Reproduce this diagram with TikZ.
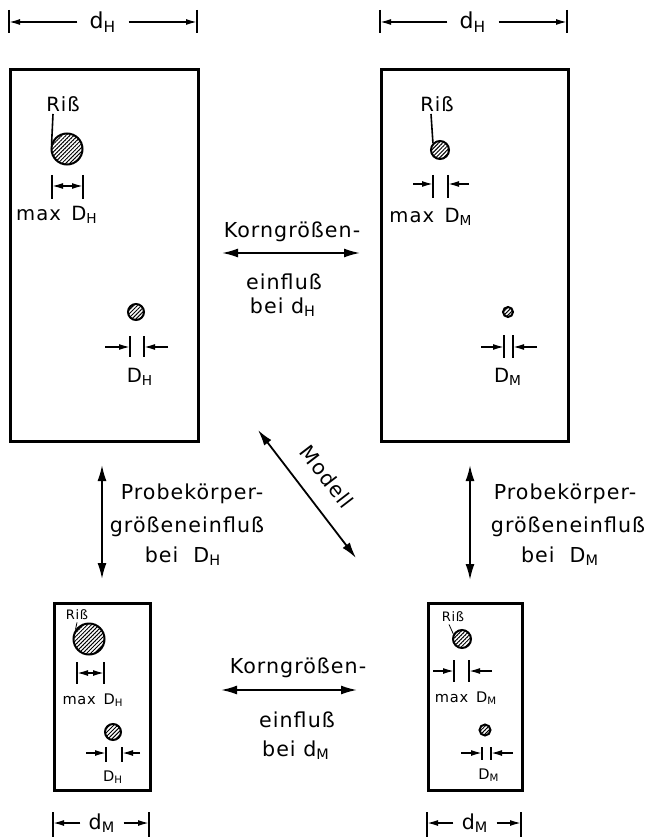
\documentclass[tikz,border=0pt]{standalone}
\usepackage{fontspec}
\setmainfont{DejaVu Sans}[LetterSpace=5]
\usetikzlibrary{arrows.meta,patterns.meta}

\begin{document}
\begin{tikzpicture}[
	x=0.5pt, y=-0.5pt,
  > = {Latex[length=5.5pt,width=3pt]},
  box/.style = {draw,line width=1.4pt,inner sep=0pt,anchor=north west},
  crack/.style = {draw,circle,line width=1pt,inner sep=0pt,pattern={Lines[angle=45,distance=1.4pt,line width=0.5pt]}},
  dim/.style = {line width=0.8pt},
  big/.style = {line width=0.9pt,{Latex[length=8pt,width=4.5pt]}-{Latex[length=8pt,width=4.5pt]}},
  lbl/.style = {inner sep=1pt,font=\fontsize{10.3}{12}\selectfont},
  in lbl/.style = {inner sep=1pt,font=\fontsize{9.8}{12}\selectfont},
  gap/.style = {lbl,inner sep=6pt,font=\fontsize{11}{13}\selectfont},
  small lbl/.style = {inner sep=1pt,font=\fontsize{7.3}{9}\selectfont},
  tiny lbl/.style = {inner sep=1pt,font=\fontsize{6.5}{8}\selectfont}
  ]
	\useasboundingbox (0,0) rectangle (645,839);

	\node[box,minimum width=94pt,minimum height=186pt] (boxA) at (9,68) {};
	\node[box,minimum width=93.5pt,minimum height=186pt] (boxB) at (380,68) {};
	\node[box,minimum width=48pt,minimum height=93.5pt] (boxC) at (53,602) {};
	\node[box,minimum width=47pt,minimum height=93.5pt] (boxD) at (427,602) {};

	% widths
	\draw[dim] (9,10) -- (9,33) (197,10) -- (197,33);
	\node[gap] (dA) at (103,22) {d\textsubscript{H}};
	\draw[dim,->] (dA) -- (9,22);
	\draw[dim,->] (dA) -- (197,22);

	\draw[dim] (380,10) -- (380,33) (567,10) -- (567,33);
	\node[gap] (dB) at (473,22) {d\textsubscript{H}};
	\draw[dim,->] (dB) -- (380,22);
	\draw[dim,->] (dB) -- (567,22);

	\draw[dim] (53,812) -- (53,837) (149,812) -- (149,837);
	\node[lbl,inner sep=4pt] (dC) at (102,823) {d\textsubscript{M}};
	\draw[dim,->] (dC) -- (53,823);
	\draw[dim,->] (dC) -- (149,823);

	\draw[dim] (427,812) -- (427,837) (521,812) -- (521,837);
	\node[lbl,inner sep=4pt] (dD) at (475,823) {d\textsubscript{M}};
	\draw[dim,->] (dD) -- (427,823);
	\draw[dim,->] (dD) -- (521,823);

	% top left
	\node[in lbl] (rissA) at (63,104) {Riß};
	\node[crack,minimum size=15.5pt] (crackA) at (67,149) {};
	\draw[dim] ([xshift=-5pt]rissA.south) -- (crackA.165);
	\draw[dim] (52,175) -- (52,199) (83,175) -- (83,199);
	\draw[dim,<->] (52,186) -- (83,186);
	\node[in lbl] (maxA) at (57,215) {max\, D\textsubscript{H}};
	\node[crack,minimum size=8pt] (grainA) at (136,312) {};
	\draw[dim] (130,336) -- (130,357) (144,336) -- (144,357);
	\draw[dim,->] (105,347) -- (130,347);
	\draw[dim,->] (168,347) -- (144,347);
	\node[in lbl] (sizeA) at (140,377) {D\textsubscript{H}};

	% top right
	\node[in lbl] (rissB) at (437,104) {Riß};
	\node[crack,minimum size=9pt] (crackB) at (440,150) {};
	\draw[dim] ([xshift=-3pt]rissB.south) -- (crackB.135);
	\draw[dim] (433,175) -- (433,198) (448,175) -- (448,198);
	\draw[dim,->] (413,184) -- (433,184);
	\draw[dim,->] (469,184) -- (448,184);
	\node[in lbl] (maxB) at (431,217) {max\, D\textsubscript{M}};
	\node[crack,minimum size=5pt] (grainB) at (508,312) {};
	\draw[dim] (504,335) -- (504,358) (513,335) -- (513,358);
	\draw[dim,->] (481,347) -- (504,347);
	\draw[dim,->] (537,347) -- (513,347);
	\node[in lbl] (sizeB) at (508,377) {D\textsubscript{M}};

	% bottom left
	\node[tiny lbl] (rissC) at (77,615) {Riß};
	\node[crack,minimum size=15.5pt] (crackC) at (89,639) {};
	\draw[thin] (rissC.south) -- (crackC.145);
	\draw[dim] (77,662) -- (77,684) (104,662) -- (104,684);
	\draw[dim,<->] (77,673) -- (104,673);
	\node[small lbl] (maxC) at (93,700) {max\, D\textsubscript{H}};
	\node[crack,minimum size=8pt] (grainC) at (113,732) {};
	\draw[dim] (106,747) -- (106,762) (122,747) -- (122,762);
	\draw[dim,->] (86,753) -- (106,753);
	\draw[dim,->] (140,753) -- (122,753);
	\node[small lbl] (sizeC) at (113,777) {D\textsubscript{H}};

	% bottom right
	\node[tiny lbl] (rissD) at (453,617) {Riß};
	\node[crack,minimum size=9pt] (crackD) at (462,639) {};
	\draw[thin] ([xshift=-2pt]rissD.south) -- (crackD.150);
	\draw[dim] (454,660) -- (454,682) (469,660) -- (469,682);
	\draw[dim,->] (433,671) -- (454,671);
	\draw[dim,->] (492,671) -- (469,671);
	\node[small lbl] (maxD) at (466,698) {max\, D\textsubscript{M}};
	\node[crack,minimum size=5.5pt] (grainD) at (485,730) {};
	\draw[dim] (482,747) -- (482,760) (491,747) -- (491,760);
	\draw[dim,->] (461,753) -- (482,753);
	\draw[dim,->] (513,753) -- (491,753);
	\node[small lbl] (sizeD) at (489,775) {D\textsubscript{M}};

	% influences
	\coordinate (kA) at (222,253);
	\coordinate (kB) at (360,253);
	\coordinate (kC) at (221,690);
	\coordinate (kD) at (357,690);
	\coordinate (pA) at (102,465);
	\coordinate (pC) at (102,579);
	\coordinate (pB) at (470,465);
	\coordinate (pD) at (470,580);
	\coordinate (mA) at (258,430);
	\coordinate (mD) at (356,558);

	\draw[big] (kA) -- (kB);
	\node[lbl] (kornA) at (292,232) {Korngrößen-};
	\node[lbl] (einA) at (284,282) {einfluß};
	\node[lbl] (beiA) at (283,307) {bei d\textsubscript{H}};

	\draw[big] (kC) -- (kD);
	\node[lbl] (kornC) at (298,668) {Korngrößen-};
	\node[lbl] (einC) at (297,720) {einfluß};
	\node[lbl] (beiC) at (296,750) {bei d\textsubscript{M}};

	\draw[big] (pA) -- (pC);
	\node[lbl] (probA) at (192,494) {Probekörper-};
	\node[lbl] (groA) at (187,527) {größeneinfluß};
	\node[lbl] (beiP) at (183,556) {bei\ \ D\textsubscript{H}};

	\draw[big] (pB) -- (pD);
	\node[lbl] (probB) at (565,494) {Probekörper-};
	\node[lbl] (groB) at (568,527) {größeneinfluß};
	\node[lbl] (beiQ) at (560,556) {bei\ \ D\textsubscript{M}};

	\draw[big] (mA) -- (mD);
	\node[lbl,rotate=-52.5] (modell) at (327,477) {Modell};

\end{tikzpicture}
\end{document}
